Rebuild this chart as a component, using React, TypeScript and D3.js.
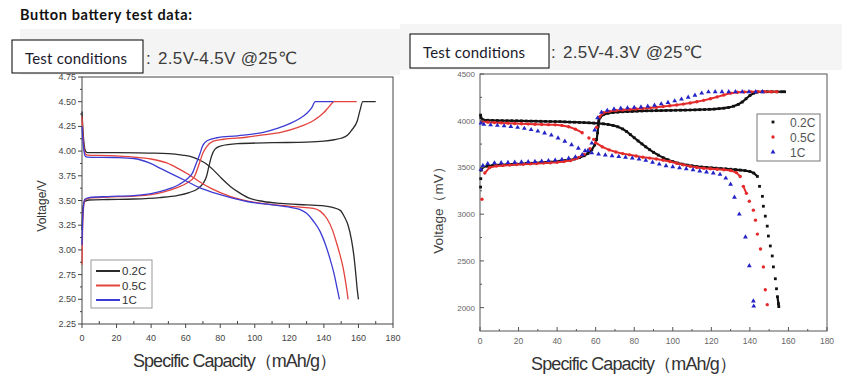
import React from "react";
import * as d3 from "d3";

// ---- data: left panel, 2.5V-4.5V (capacity mAh/g, voltage V) ----
const leftCharge02 = [[0,3.2],[0.5,3.42],[1.5,3.49],[4,3.505],[15,3.51],[30,3.515],[45,3.53],[55,3.55],[62,3.58],[67,3.62],[70,3.67],[72,3.74],[73.5,3.85],[75,3.95],[77,4.02],[80,4.05],[90,4.075],[110,4.085],[130,4.09],[140,4.1],[146,4.115],[150,4.13],[153.6,4.16],[156,4.21],[159.4,4.31],[161,4.42],[162.5,4.5],[170,4.5]];
const leftCharge05 = [[0,2.85],[0.5,3.3],[1.5,3.5],[4,3.525],[15,3.535],[30,3.545],[40,3.56],[48,3.59],[55,3.63],[61,3.68],[65,3.74],[68,3.88],[70,3.98],[72,4.04],[76,4.1],[82,4.12],[95,4.14],[105,4.165],[115,4.19],[125,4.24],[134,4.31],[140,4.39],[143,4.45],[146,4.5],[159,4.5]];
const leftCharge1 = [[0,3.05],[0.5,3.35],[1.5,3.51],[4,3.53],[15,3.54],[30,3.55],[40,3.57],[49,3.61],[56,3.66],[61,3.72],[64,3.78],[66,3.87],[68,3.96],[70,4.06],[73,4.11],[78,4.135],[90,4.155],[105,4.19],[113,4.23],[120.6,4.28],[126,4.33],[130,4.38],[133,4.44],[135,4.5],[145.5,4.5]];
const leftDis02 = [[0,4.4],[0.8,4.15],[2,4.0],[3,3.985],[20,3.985],[39,3.98],[50,3.975],[58,3.96],[64,3.94],[68,3.91],[72,3.87],[76,3.81],[81,3.72],[86,3.64],[91,3.58],[96,3.53],[105,3.49],[115,3.47],[130,3.455],[140,3.445],[145,3.43],[149.5,3.4],[152,3.33],[154,3.25],[156,3.1],[157.3,2.95],[158.5,2.75],[159.3,2.6],[160,2.5]];
const leftDis05 = [[0,4.35],[0.8,4.1],[2,3.97],[3,3.96],[15,3.955],[30,3.94],[40,3.92],[49,3.88],[56,3.82],[62,3.76],[68,3.69],[75,3.62],[86,3.54],[100,3.48],[115,3.45],[125,3.435],[134,3.42],[138,3.39],[142,3.31],[145,3.2],[147,3.09],[149,2.97],[151,2.83],[152.8,2.65],[154,2.5]];
const leftDis1 = [[0,4.25],[0.8,4.05],[2,3.945],[3,3.94],[20,3.935],[30,3.925],[39,3.88],[46,3.82],[53,3.76],[60,3.7],[68,3.63],[76,3.58],[86,3.53],[95.6,3.49],[110,3.455],[120.6,3.43],[126,3.41],[130,3.37],[134,3.29],[138,3.18],[141,3.05],[143.7,2.9],[146,2.75],[147.8,2.6],[149,2.5]];

// ---- data: right panel, 2.5V-4.3V (capacity mAh/g, voltage mV) ----
const rightCharge02 = [[0.3,3290],[0.4,3380],[0.6,3470],[1.5,3505],[4,3515],[6.5,3520],[9,3524],[11.5,3527],[14,3530],[16.5,3533],[19,3536],[21.5,3539],[24,3542],[26.5,3545],[29,3548],[31.5,3551],[34,3554],[36.5,3558],[39,3562],[41.5,3567],[44,3573],[46.5,3580],[49,3590],[51.5,3605],[54,3625],[56,3650],[58,3690],[59.5,3740],[60.5,3800],[61,3870],[61.3,3940],[61.6,4000],[62.5,4040],[64,4065],[66.5,4080],[69,4088],[71.5,4093],[74,4096],[76.5,4098],[79,4100],[81.5,4102],[84,4104],[86.5,4106],[89,4107],[91.5,4108],[94,4109],[96.5,4110],[99,4111],[101.5,4112],[104,4113],[106.5,4114],[109,4115],[111.5,4116],[114,4118],[116.5,4120],[119,4122],[121.5,4125],[124,4129],[126.5,4134],[129,4142],[131.5,4155],[134,4175],[136,4200],[138,4235],[140,4270],[142,4295],[144,4308],[146.5,4310],[149,4310],[151.5,4310],[154,4310],[156.5,4310],[158,4310]];
const rightCharge05 = [[1,3160],[2.5,3440],[5,3500],[8.5,3515],[12,3522],[15.5,3527],[19,3531],[22.5,3535],[26,3539],[29.5,3543],[33,3547],[36.5,3551],[40,3556],[43.5,3563],[47,3575],[50.5,3600],[54,3640],[57,3700],[59,3800],[60.5,3930],[62,4040],[64,4085],[67,4100],[70.5,4110],[74,4115],[77.5,4120],[81,4125],[84.5,4130],[88,4137],[91.5,4144],[95,4152],[98.5,4160],[102,4168],[105.5,4178],[109,4190],[112.5,4203],[116,4218],[119.5,4235],[123,4255],[126.5,4275],[130,4295],[133.5,4305],[137,4308],[140.5,4309],[144,4310],[147.5,4310],[151,4310],[154,4310]];
const rightCharge1 = [[0.5,3480],[1.5,3520],[4,3540],[7.5,3548],[11,3550],[14.5,3552],[18,3555],[21.5,3557],[25,3560],[28.5,3563],[32,3567],[35.5,3572],[39,3578],[42.5,3586],[46,3597],[49.5,3612],[53,3635],[56,3680],[58,3760],[59.5,3900],[61,4030],[63,4090],[66,4110],[69.5,4125],[73,4132],[76.5,4137],[80,4142],[83.5,4147],[87,4155],[90.5,4165],[94,4180],[97.5,4195],[101,4212],[104.5,4230],[108,4250],[111.5,4272],[115,4295],[118.5,4308],[122,4310],[125.5,4310],[129,4310],[132.5,4310],[136,4310],[139.5,4310],[143,4310],[146.5,4310]];
const rightDis02 = [[0.3,4060],[0.5,4032],[1.5,4010],[4,4005],[6.5,4003],[9,4002],[11.5,4001],[14,4000],[16.5,4000],[19,3999],[21.5,3998],[24,3997],[26.5,3996],[29,3995],[31.5,3994],[34,3993],[36.5,3992],[39,3991],[41.5,3990],[44,3988],[46.5,3986],[49,3984],[51.5,3982],[54,3980],[56.5,3978],[59,3975],[61.5,3972],[64,3967],[66.5,3960],[69,3950],[71.5,3935],[74,3912],[76,3885],[78,3852],[80,3818],[82,3784],[84,3752],[86,3720],[88,3690],[90,3662],[92.5,3632],[95,3605],[97.5,3582],[100,3562],[102.5,3547],[105,3535],[107.5,3525],[110,3517],[112.5,3510],[115,3505],[117.5,3500],[120,3496],[122.5,3492],[125,3488],[127.5,3485],[130,3481],[132.5,3477],[135,3472],[137.5,3466],[140,3457],[142,3440],[143.9,3404],[145,3298],[146.5,3191],[147,3085],[148,2979],[149,2872],[149.6,2766],[150.6,2660],[151.6,2553],[152.2,2436],[153.2,2309],[153.8,2202],[154.3,2117],[154.8,2043],[155,2011]];
const rightDis05 = [[1,3992],[4,3985],[7.5,3980],[11,3977],[14.5,3974],[18,3971],[21.5,3968],[25,3966],[28.5,3963],[32,3960],[35.5,3958],[39,3956],[42.5,3950],[46,3935],[49.5,3910],[53,3872],[56.5,3815],[60,3765],[63.5,3720],[67,3688],[70.5,3665],[74,3648],[77.5,3635],[81,3622],[84.5,3610],[88,3600],[91.5,3590],[95,3578],[98.5,3563],[102,3545],[105.5,3528],[109,3512],[112.5,3500],[116,3492],[119.5,3486],[123,3481],[126.5,3476],[130,3468],[133,3445],[135,3404],[136.6,3298],[138.2,3223],[139.7,3138],[141.8,3043],[142.9,2936],[143.9,2787],[145.5,2628],[147,2436],[148,2191],[149,2032]];
const rightDis1 = [[0.5,3975],[2,3960],[5.5,3955],[9,3950],[12.5,3944],[16,3937],[19.5,3928],[23,3917],[26.5,3904],[30,3888],[33.5,3868],[37,3845],[40.5,3815],[44,3780],[47.5,3742],[51,3705],[54.5,3678],[58,3655],[61.5,3642],[65,3632],[68.5,3624],[72,3616],[75.5,3608],[79,3600],[82.5,3590],[86,3575],[89.5,3555],[93,3535],[96.5,3518],[100,3506],[103.5,3496],[107,3486],[110.5,3474],[114,3462],[117.5,3450],[121,3440],[124.5,3425],[127.5,3385],[130,3319],[132,3181],[134.5,3000],[137.7,2755],[139.7,2447],[141.8,2070],[142,2015]];

const rates = ["0.2C", "0.5C", "1C"];
const lineColors = ["#2b2b2b", "#e3423d", "#3c3cd4"];
const dotColors = ["#111111", "#e42a2a", "#2323c6"];

const xTicks = [0, 20, 40, 60, 80, 100, 120, 140, 160, 180];
const leftYTicks = [2.25, 2.5, 2.75, 3.0, 3.25, 3.5, 3.75, 4.0, 4.25, 4.5, 4.75];
const rightYTicks = [2000, 2500, 3000, 3500, 4000, 4500];

const xL = d3.scaleLinear().domain([0, 180]).range([82, 393]);
const yL = d3.scaleLinear().domain([2.25, 4.75]).range([324, 77]);
const xR = d3.scaleLinear().domain([0, 180]).range([480, 827]);
const yR = d3.scaleLinear().domain([1750, 4500]).range([331, 74]);

const sans = "'Liberation Sans', Arial, 'DejaVu Sans', sans-serif";
const doc = "Lato, 'Open Sans', sans-serif";

function LeftPanel() {
  const line = d3.line<number[]>().x((d) => xL(d[0])).y((d) => yL(d[1])).curve(d3.curveMonotoneX);
  const series = [
    [leftCharge02, leftDis02],
    [leftCharge05, leftDis05],
    [leftCharge1, leftDis1],
  ];
  const minorY = d3.range(2.375, 4.75, 0.25);
  const minorX = d3.range(10, 180, 20);
  return (
    <g>
      <rect x={82} y={77} width={311} height={247} fill="#fff" stroke="#444" strokeWidth={1} />
      {series.map((s, i) =>
        s.map((d, j) => (
          <path key={i + "-" + j} d={line(d) || ""} fill="none" stroke={lineColors[i]} strokeWidth={1.3} />
        ))
      )}
      {leftYTicks.map((t) => (
        <g key={t}>
          <line x1={78} x2={82} y1={yL(t)} y2={yL(t)} stroke="#444" />
          <text x={76} y={yL(t) + 3} textAnchor="end" fontSize={9} fill="#444" fontFamily={sans}>
            {d3.format(".2f")(t)}
          </text>
        </g>
      ))}
      {minorY.map((t) => (
        <line key={t} x1={80} x2={82} y1={yL(t)} y2={yL(t)} stroke="#444" />
      ))}
      {xTicks.map((t) => (
        <g key={t}>
          <line x1={xL(t)} x2={xL(t)} y1={324} y2={328} stroke="#444" />
          <text x={xL(t)} y={341} textAnchor="middle" fontSize={9} fill="#444" fontFamily={sans}>
            {t}
          </text>
        </g>
      ))}
      {minorX.map((t) => (
        <line key={t} x1={xL(t)} x2={xL(t)} y1={321} y2={324} stroke="#444" />
      ))}
      <text transform="translate(46,206) rotate(-90)" textAnchor="middle" fontSize={12} fill="#333" fontFamily={sans}>
        Voltage/V
      </text>
      <text x={133} y={367} fontSize={18} fill="#333" fontFamily={sans} textLength={204}>
        Specific Capacity（mAh/g）
      </text>
      <rect x={91} y={260} width={61} height={48} fill="#fff" stroke="#999" />
      {rates.map((r, i) => (
        <g key={r}>
          <line x1={96} x2={120} y1={271 + i * 14.5} y2={271 + i * 14.5} stroke={lineColors[i]} strokeWidth={2} />
          <text x={122} y={275 + i * 14.5} fontSize={11.5} fill="#333" fontFamily={sans}>
            {r}
          </text>
        </g>
      ))}
    </g>
  );
}

function Marker({ i, x, y }: { i: number; x: number; y: number }) {
  if (i === 0) return <rect x={x - 1.4} y={y - 1.4} width={2.8} height={2.8} fill={dotColors[0]} />;
  if (i === 1) return <circle cx={x} cy={y} r={1.7} fill={dotColors[1]} />;
  const tri = d3.symbol().type(d3.symbolTriangle).size(10)() || "";
  return <path d={tri} transform={`translate(${x},${y})`} fill={dotColors[2]} />;
}

function RightPanel() {
  const series = [
    [rightCharge02, rightDis02],
    [rightCharge05, rightDis05],
    [rightCharge1, rightDis1],
  ];
  const minorY = d3.range(2250, 4500, 500);
  const minorX = d3.range(10, 180, 20);
  // join close neighbours of the dense series so they read as solid traces
  const joins = (pts: number[][], w: number, c: string, k: string) => {
    const out: React.ReactElement[] = [];
    for (let j = 1; j < pts.length; j++) {
      const a = [xR(pts[j - 1][0]), yR(pts[j - 1][1])];
      const b = [xR(pts[j][0]), yR(pts[j][1])];
      if (Math.hypot(b[0] - a[0], b[1] - a[1]) < 8)
        out.push(<line key={k + j} x1={a[0]} y1={a[1]} x2={b[0]} y2={b[1]} stroke={c} strokeWidth={w} />);
    }
    return out;
  };
  return (
    <g>
      <rect x={480} y={74} width={347} height={257} fill="#fff" stroke="#555" strokeWidth={1} />
      {series.map((s, i) =>
        s.map((pts, j) => (
          <g key={i + "-" + j}>
            {i < 2 && joins(pts, i === 0 ? 2.2 : 2, dotColors[i], i + "-" + j + "-")}
            {pts.map((d, k) => (
              <Marker key={k} i={i} x={xR(d[0])} y={yR(d[1])} />
            ))}
          </g>
        ))
      )}
      {rightYTicks.map((t) => (
        <g key={t}>
          <line x1={480} x2={484} y1={yR(t)} y2={yR(t)} stroke="#555" />
          <text x={475} y={yR(t) + 3} textAnchor="end" fontSize={8} fill="#666" fontFamily={sans}>
            {t}
          </text>
        </g>
      ))}
      {minorY.map((t) => (
        <line key={t} x1={480} x2={482} y1={yR(t)} y2={yR(t)} stroke="#555" />
      ))}
      {xTicks.map((t) => (
        <g key={t}>
          <line x1={xR(t)} x2={xR(t)} y1={327} y2={331} stroke="#555" />
          <text x={xR(t)} y={344} textAnchor="middle" fontSize={8.5} fill="#666" fontFamily={sans}>
            {t}
          </text>
        </g>
      ))}
      {minorX.map((t) => (
        <line key={t} x1={xR(t)} x2={xR(t)} y1={329} y2={331} stroke="#555" />
      ))}
      <text transform="translate(443,207) rotate(-90)" textAnchor="middle" fontSize={13.5} fill="#444" fontFamily={sans}>
        Voltage（mV）
      </text>
      <text x={531} y={370} fontSize={18} fill="#333" fontFamily={sans} textLength={206}>
        Specific Capacity（mAh/g）
      </text>
      <rect x={757} y={114} width={63} height={47} fill="#fff" stroke="#777" />
      {rates.map((r, i) => (
        <g key={r}>
          <Marker i={i} x={773} y={122 + i * 15} />
          <text x={790} y={126.5 + i * 15} fontSize={12} fill="#555" fontFamily={sans}>
            {r}
          </text>
        </g>
      ))}
    </g>
  );
}

export default function App() {
  return (
    <svg width={842} height={390} style={{ position: "absolute", left: 0, top: 0, background: "#fff" }}>
      <rect width={842} height={390} fill="#fff" />
      <text x={20} y={20} fontFamily={doc} fontWeight={700} fontSize={14.5} fill="#111" textLength={172}>
        Button battery test data:
      </text>
      <rect x={20} y={29} width={380} height={46} fill="#f4f4f4" />
      <rect x={400} y={24} width={442} height={46} fill="#f5f5f5" />

      <text x={146} y={64} fontSize={17} fill="#3c3c3c" fontFamily={sans}>:</text>
      <text x={158} y={64} fontSize={17} fill="#3c3c3c" fontFamily={sans} textLength={139}>
        2.5V-4.5V  @25℃
      </text>
      <text x={551} y={58} fontSize={17} fill="#3c3c3c" fontFamily={sans}>:</text>
      <text x={563} y={58} fontSize={17} fill="#3c3c3c" fontFamily={sans} textLength={139}>
        2.5V-4.3V  @25℃
      </text>

      <LeftPanel />
      <RightPanel />

      <rect x={12} y={40} width={131} height={33} fill="#fff" stroke="#000" strokeWidth={1} />
      <text x={25} y={64} fontFamily={doc} fontSize={15} fill="#1a1a2a" textLength={102}>
        Test conditions
      </text>
      <rect x={410} y={34} width={139} height={34} fill="#fff" stroke="#000" strokeWidth={1} />
      <text x={423} y={58} fontFamily={doc} fontSize={15} fill="#1a1a2a" textLength={102}>
        Test conditions
      </text>
    </svg>
  );
}
